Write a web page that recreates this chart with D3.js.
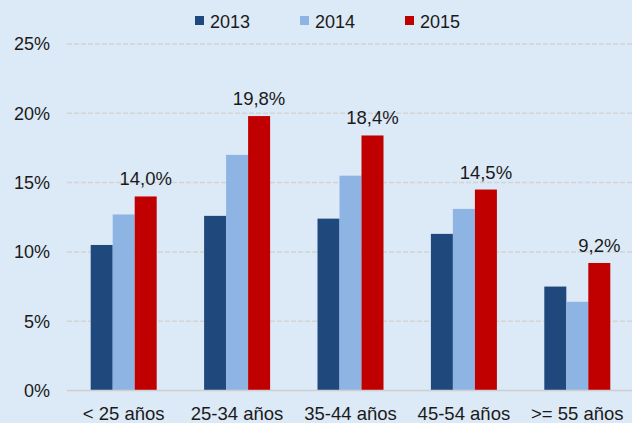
<!DOCTYPE html>
<html>
<head>
<meta charset="utf-8">
<script src="https://cdn.jsdelivr.net/npm/d3@7"></script>
<style>
  html, body { margin: 0; padding: 0; background: #dce9f6; }
  svg { display: block; }
  text { font-family: "Liberation Sans", Arial, Helvetica, sans-serif; fill: #1a1a1a; }
</style>
</head>
<body>
<svg id="chart" width="632" height="423"></svg>
<script>
const categories = ["< 25 años", "25-34 años", "35-44 años", "45-54 años", ">= 55 años"];
const seriesNames = ["2013", "2014", "2015"];
const values2013 = [10.5, 12.6, 12.4, 11.3, 7.5];
const values2014 = [12.7, 17.0, 15.5, 13.1, 6.4];
const values2015 = [14.0, 19.8, 18.4, 14.5, 9.2];
const labels2015 = ["14,0%", "19,8%", "18,4%", "14,5%", "9,2%"];
const yTicks = [0, 5, 10, 15, 20, 25];
const colors = ["#1f497d", "#8eb4e3", "#c00000"];

const allSeries = [values2013, values2014, values2015];
const svg = d3.select("#chart");
const W = 632, H = 423;
const margin = { left: 67, right: -2, top: 44, bottom: 32.5 };

svg.append("rect").attr("width", W).attr("height", H).attr("fill", "#dce9f6");

const y = d3.scaleLinear().domain([0, 25]).range([H - margin.bottom, margin.top]);
const x0 = d3.scaleBand().domain(categories)
  .range([margin.left, W - margin.right])
  .paddingInner(0.418).paddingOuter(0.209);
const x1 = d3.scaleBand().domain(seriesNames).range([0, x0.bandwidth()]);

// gridlines
svg.append("g").selectAll("line").data(yTicks.filter(t => t > 0)).join("line")
  .attr("x1", margin.left).attr("x2", W)
  .attr("y1", d => y(d)).attr("y2", d => y(d))
  .attr("stroke", "#d4d4d4").attr("stroke-width", 1.5)
  .attr("stroke-dasharray", "5,2");

// y-axis labels
svg.append("g").selectAll("text").data(yTicks).join("text")
  .attr("x", 50).attr("y", d => y(d)).attr("dy", "0.36em")
  .attr("text-anchor", "end").attr("font-size", 18)
  .text(d => d + "%");

// bars
const groups = svg.append("g").selectAll("g").data(categories).join("g")
  .attr("transform", d => `translate(${x0(d)},0)`);
groups.selectAll("rect").data((c, i) => seriesNames.map((s, j) => ({ s, v: allSeries[j][i], j })))
  .join("rect")
  .attr("x", d => x1(d.s))
  .attr("width", x1.bandwidth())
  .attr("y", d => y(d.v))
  .attr("height", d => y(0) - y(d.v))
  .attr("fill", d => colors[d.j]);

// baseline
svg.append("line").attr("x1", margin.left).attr("x2", W)
  .attr("y1", y(0)).attr("y2", y(0))
  .attr("stroke", "#cfcfcf").attr("stroke-width", 1.3);

// value labels for 2015
svg.append("g").selectAll("text").data(categories).join("text")
  .attr("x", c => x0(c) + x1("2015") + x1.bandwidth() / 2)
  .attr("y", (c, i) => y(values2015[i]) - 11)
  .attr("text-anchor", "middle").attr("font-size", 18.5)
  .text((c, i) => labels2015[i]);

// category labels
svg.append("g").selectAll("text").data(categories).join("text")
  .attr("x", c => x0(c) + x0.bandwidth() / 2)
  .attr("y", 420)
  .attr("text-anchor", "middle").attr("font-size", 18.5)
  .text(c => c);

// legend
const legend = svg.append("g").selectAll("g").data(seriesNames).join("g")
  .attr("transform", (d, i) => `translate(${195 + i * 105},0)`);
legend.append("rect").attr("x", 0).attr("y", 16).attr("width", 9).attr("height", 9)
  .attr("fill", (d, i) => colors[i]);
legend.append("text").attr("x", 15).attr("y", 28).attr("font-size", 18).text(d => d);
</script>
</body>
</html>
